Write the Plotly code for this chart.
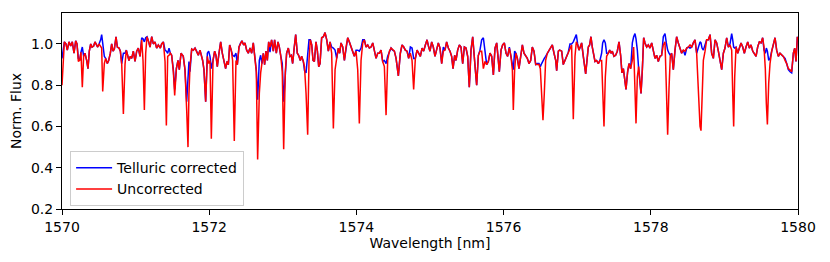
import plotly.graph_objects as go

wavelength = [
    1570.000, 1570.032, 1570.054, 1570.072, 1570.095, 1570.118, 1570.140, 1570.163, 1570.186, 1570.204,
    1570.222, 1570.240, 1570.258, 1570.276, 1570.294, 1570.312, 1570.335, 1570.353, 1570.371, 1570.390,
    1570.408, 1570.430, 1570.448, 1570.467, 1570.485, 1570.503, 1570.525, 1570.539, 1570.553, 1570.575,
    1570.593, 1570.616, 1570.634, 1570.657, 1570.675, 1570.693, 1570.711, 1570.734, 1570.752, 1570.775,
    1570.793, 1570.811, 1570.834, 1570.856, 1570.874, 1570.892, 1570.910, 1570.929, 1570.947, 1570.969,
    1570.992, 1571.015, 1571.037, 1571.060, 1571.083, 1571.101, 1571.119, 1571.137, 1571.155, 1571.178,
    1571.196, 1571.219, 1571.241, 1571.264, 1571.286, 1571.309, 1571.336, 1571.354, 1571.377, 1571.400,
    1571.418, 1571.436, 1571.454, 1571.472, 1571.490, 1571.513, 1571.531, 1571.554, 1571.576, 1571.594,
    1571.617, 1571.648, 1571.671, 1571.694, 1571.712, 1571.725, 1571.739, 1571.762, 1571.784, 1571.807,
    1571.829, 1571.852, 1571.875, 1571.893, 1571.911, 1571.929, 1571.952, 1571.975, 1571.993, 1572.011,
    1572.029, 1572.052, 1572.074, 1572.092, 1572.110, 1572.133, 1572.156, 1572.178, 1572.200, 1572.223,
    1572.242, 1572.260, 1572.278, 1572.300, 1572.318, 1572.341, 1572.364, 1572.382, 1572.405, 1572.427,
    1572.445, 1572.468, 1572.486, 1572.509, 1572.531, 1572.554, 1572.577, 1572.599, 1572.622, 1572.640,
    1572.658, 1572.681, 1572.699, 1572.717, 1572.735, 1572.753, 1572.771, 1572.790, 1572.808, 1572.826,
    1572.848, 1572.871, 1572.889, 1572.912, 1572.935, 1572.953, 1572.971, 1572.993, 1573.012, 1573.034,
    1573.052, 1573.075, 1573.097, 1573.116, 1573.134, 1573.156, 1573.175, 1573.197, 1573.215, 1573.238,
    1573.256, 1573.279, 1573.295, 1573.316, 1573.338, 1573.356, 1573.374, 1573.393, 1573.411, 1573.429,
    1573.451, 1573.470, 1573.488, 1573.506, 1573.528, 1573.551, 1573.574, 1573.597, 1573.619, 1573.642,
    1573.664, 1573.687, 1573.710, 1573.732, 1573.755, 1573.773, 1573.791, 1573.814, 1573.837, 1573.859,
    1573.882, 1573.904, 1573.927, 1573.950, 1573.972, 1573.995, 1574.018, 1574.040, 1574.063, 1574.086,
    1574.108, 1574.131, 1574.154, 1574.176, 1574.199, 1574.222, 1574.244, 1574.267, 1574.290, 1574.312,
    1574.335, 1574.357, 1574.380, 1574.403, 1574.425, 1574.448, 1574.471, 1574.493, 1574.516, 1574.539,
    1574.570, 1574.597, 1574.620, 1574.643, 1574.665, 1574.688, 1574.710, 1574.733, 1574.756, 1574.778,
    1574.801, 1574.824, 1574.846, 1574.869, 1574.892, 1574.914, 1574.937, 1574.960, 1574.982, 1575.000,
    1575.023, 1575.045, 1575.068, 1575.091, 1575.113, 1575.136, 1575.159, 1575.181, 1575.204, 1575.226,
    1575.249, 1575.272, 1575.294, 1575.313, 1575.335, 1575.353, 1575.376, 1575.399, 1575.421, 1575.444,
    1575.467, 1575.489, 1575.512, 1575.534, 1575.557, 1575.580, 1575.598, 1575.616, 1575.634, 1575.657,
    1575.679, 1575.702, 1575.725, 1575.747, 1575.770, 1575.793, 1575.815, 1575.838, 1575.861, 1575.883,
    1575.906, 1575.924, 1575.942, 1575.965, 1575.987, 1576.010, 1576.033, 1576.055, 1576.078, 1576.100,
    1576.119, 1576.132, 1576.150, 1576.168, 1576.187, 1576.209, 1576.232, 1576.255, 1576.277, 1576.300,
    1576.322, 1576.345, 1576.368, 1576.390, 1576.413, 1576.436, 1576.458, 1576.481, 1576.499, 1576.517,
    1576.535, 1576.553, 1576.571, 1576.594, 1576.617, 1576.640, 1576.662, 1576.685, 1576.708, 1576.721,
    1576.744, 1576.762, 1576.789, 1576.811, 1576.834, 1576.856, 1576.879, 1576.902, 1576.924, 1576.947,
    1576.970, 1576.988, 1577.006, 1577.024, 1577.042, 1577.060, 1577.083, 1577.106, 1577.115, 1577.133,
    1577.151, 1577.169, 1577.187, 1577.205, 1577.223, 1577.242, 1577.264, 1577.287, 1577.309, 1577.332,
    1577.346, 1577.364, 1577.382, 1577.400, 1577.423, 1577.441, 1577.459, 1577.477, 1577.500, 1577.522,
    1577.545, 1577.568, 1577.590, 1577.608, 1577.627, 1577.645, 1577.663, 1577.685, 1577.704, 1577.726,
    1577.749, 1577.767, 1577.785, 1577.799, 1577.817, 1577.835, 1577.853, 1577.867, 1577.885, 1577.903,
    1577.921, 1577.944, 1577.966, 1577.989, 1578.012, 1578.034, 1578.057, 1578.079, 1578.102, 1578.125,
    1578.147, 1578.170, 1578.193, 1578.211, 1578.229, 1578.247, 1578.265, 1578.283, 1578.306, 1578.329,
    1578.351, 1578.374, 1578.397, 1578.419, 1578.442, 1578.465, 1578.488, 1578.510, 1578.533, 1578.556,
    1578.578, 1578.601, 1578.623, 1578.646, 1578.669, 1578.682, 1578.696, 1578.714, 1578.737, 1578.759,
    1578.782, 1578.805, 1578.827, 1578.850, 1578.873, 1578.895, 1578.918, 1578.940, 1578.963, 1578.986,
    1579.008, 1579.031, 1579.054, 1579.076, 1579.099, 1579.113, 1579.126, 1579.140, 1579.158, 1579.181,
    1579.203, 1579.226, 1579.249, 1579.271, 1579.294, 1579.317, 1579.339, 1579.362, 1579.385, 1579.407,
    1579.430, 1579.452, 1579.475, 1579.498, 1579.520, 1579.538, 1579.556, 1579.570, 1579.584, 1579.602,
    1579.620, 1579.643, 1579.665, 1579.688, 1579.710, 1579.733, 1579.756, 1579.778, 1579.801, 1579.824,
    1579.846, 1579.869, 1579.892, 1579.914, 1579.937, 1579.955, 1579.973, 1579.991,
]

flux_uncorrected = [
    0.80, 1.01, 1.00, 0.97, 1.01, 0.99, 1.01, 0.955, 1.015, 1.00,
    0.915, 0.92, 0.96, 0.79, 0.94, 0.955, 0.92, 0.88, 0.965, 1.00,
    0.985, 0.99, 1.01, 0.995, 0.985, 1.00, 0.99, 0.98, 0.77, 0.905,
    0.93, 0.905, 0.92, 0.955, 1.00, 0.965, 0.975, 1.035, 0.985, 0.98,
    0.965, 0.905, 0.66, 0.90, 0.97, 0.945, 0.92, 0.94, 0.93, 0.965,
    0.915, 0.965, 0.98, 0.94, 1.02, 0.92, 0.68, 0.955, 1.035, 1.01,
    0.985, 1.035, 1.00, 1.01, 0.98, 0.995, 0.98, 1.00, 1.01, 0.915,
    0.605, 0.94, 0.945, 0.955, 0.945, 0.865, 0.75, 0.88, 0.92, 0.875,
    0.955, 0.94, 0.875, 0.68, 0.50, 0.76, 0.89, 0.975, 0.97, 0.98,
    0.965, 0.945, 0.97, 0.945, 0.92, 0.875, 0.72, 0.94, 0.905, 0.92,
    0.54, 0.92, 0.965, 0.945, 0.89, 0.955, 1.01, 0.955, 0.915, 0.88,
    0.915, 0.90, 0.995, 0.97, 0.92, 0.53, 0.92, 0.90, 0.985, 1.005,
    1.015, 0.995, 1.005, 0.97, 0.955, 0.98, 0.955, 1.005, 0.94, 0.865,
    0.44, 0.76, 0.86, 0.905, 0.955, 0.90, 0.965, 0.92, 1.01, 0.985,
    1.02, 0.965, 1.02, 0.955, 1.01, 0.985, 0.945, 0.865, 0.49, 0.865,
    0.955, 0.98, 0.94, 0.945, 0.905, 0.985, 1.045, 0.955, 0.945, 0.92,
    0.94, 0.915, 0.89, 0.76, 0.56, 0.92, 1.02, 0.995, 0.92, 0.915,
    1.01, 0.965, 0.89, 0.905, 1.03, 1.035, 1.055, 1.02, 0.965, 1.01,
    0.955, 0.59, 0.875, 0.93, 0.98, 0.955, 1.005, 0.985, 0.92, 0.985,
    1.03, 1.01, 0.985, 0.955, 0.94, 0.965, 0.875, 0.615, 0.92, 1.005,
    1.02, 0.985, 0.995, 0.98, 0.985, 1.005, 0.965, 0.93, 0.955, 0.955,
    0.97, 0.915, 0.89, 0.655, 0.92, 0.965, 0.98, 0.97, 0.965, 0.93,
    0.845, 0.955, 0.995, 0.985, 0.97, 0.965, 0.93, 0.955, 0.92, 0.78,
    0.93, 0.97, 0.955, 0.94, 0.98, 0.965, 0.995, 1.02, 0.985, 0.965,
    1.01, 0.985, 0.94, 0.97, 1.005, 0.98, 0.905, 0.965, 0.97, 1.01,
    0.98, 0.965, 0.94, 0.88, 0.945, 0.92, 0.97, 0.995, 0.985, 0.905,
    0.985, 0.98, 0.94, 0.79, 0.97, 1.035, 0.97, 0.875, 0.80, 0.945,
    0.965, 0.965, 0.88, 0.915, 0.90, 0.915, 0.955, 0.94, 0.85, 0.98,
    1.005, 0.94, 0.865, 0.97, 0.995, 1.005, 0.955, 0.94, 0.98, 0.94,
    0.875, 0.68, 0.875, 0.955, 0.93, 0.88, 0.94, 0.995, 0.955, 0.94,
    0.93, 0.905, 0.92, 0.985, 0.965, 0.90, 0.90, 0.90, 0.88, 0.745,
    0.63, 0.76, 0.92, 0.955, 0.97, 0.985, 0.995, 0.955, 0.92, 0.87,
    0.965, 0.97, 0.965, 0.90, 0.92, 0.945, 0.96, 0.98, 0.995, 0.635,
    0.94, 1.01, 0.995, 0.97, 0.985, 1.005, 0.94, 0.875, 0.855, 0.92,
    0.985, 0.995, 1.035, 0.985, 0.94, 0.915, 0.92, 0.905, 0.92, 0.92,
    0.78, 0.60, 0.84, 0.94, 0.955, 0.97, 0.955, 0.965, 0.94, 0.945,
    0.965, 1.01, 0.945, 0.86, 0.88, 0.84, 0.78, 0.865, 0.905, 0.88,
    0.92, 0.985, 0.76, 0.615, 0.84, 0.89, 0.82, 0.76, 0.875, 1.03,
    1.005, 0.985, 0.995, 0.98, 1.005, 0.97, 0.93, 0.945, 0.915, 0.94,
    0.945, 0.995, 1.01, 0.79, 0.56, 0.78, 0.94, 0.955, 0.875, 0.97,
    1.035, 1.005, 0.98, 0.955, 0.97, 0.965, 0.98, 0.985, 0.995, 0.985,
    1.005, 1.02, 0.955, 0.79, 0.60, 0.58, 0.76, 0.92, 0.965, 1.02,
    1.02, 1.045, 0.955, 0.93, 1.02, 1.005, 0.965, 0.92, 0.875, 0.955,
    0.98, 1.03, 0.985, 0.995, 0.97, 0.76, 0.60, 0.84, 0.985, 0.955,
    0.98, 1.005, 0.985, 0.955, 0.985, 1.01, 0.98, 0.995, 0.965, 0.955,
    0.94, 0.985, 1.01, 1.005, 1.03, 0.985, 0.88, 0.71, 0.61, 0.81,
    0.905, 0.965, 0.995, 1.03, 0.97, 0.94, 0.955, 0.945, 0.94, 0.92,
    0.905, 0.88, 0.875, 0.865, 0.955, 0.98, 0.915, 1.035,
]

flux_corrected = [
    0.93, 1.01, 1.00, 0.97, 1.01, 0.99, 1.01, 0.955, 1.015, 1.00,
    0.93, 0.92, 0.96, 0.985, 0.94, 0.955, 0.92, 0.88, 0.965, 1.00,
    0.985, 0.99, 1.01, 0.995, 0.985, 1.00, 1.02, 1.045, 1.01, 0.94,
    0.93, 0.905, 0.92, 0.955, 1.00, 0.965, 0.975, 1.035, 0.985, 0.98,
    0.965, 0.905, 0.955, 0.955, 0.97, 0.945, 0.92, 0.94, 0.93, 0.965,
    0.915, 0.965, 0.98, 0.94, 1.03, 1.025, 1.01, 1.03, 1.035, 1.01,
    0.985, 1.035, 1.00, 1.01, 0.98, 0.995, 0.98, 1.00, 1.01, 0.97,
    0.965, 0.955, 0.98, 0.955, 0.945, 0.875, 0.78, 0.88, 0.92, 0.875,
    0.955, 0.94, 0.875, 0.72, 0.84, 0.915, 0.865, 0.975, 0.97, 0.98,
    0.965, 0.945, 0.97, 0.945, 0.92, 0.875, 0.72, 0.955, 0.965, 0.94,
    0.88, 0.92, 0.965, 0.945, 0.89, 0.955, 1.01, 0.955, 0.915, 0.88,
    0.915, 0.90, 0.995, 0.97, 0.945, 0.94, 0.955, 0.90, 0.985, 1.005,
    1.015, 0.995, 1.005, 0.97, 0.955, 0.98, 0.955, 1.005, 0.94, 0.875,
    0.73, 0.92, 0.945, 0.905, 0.955, 0.90, 0.965, 0.92, 1.01, 0.96,
    1.02, 0.965, 1.02, 0.955, 1.01, 0.985, 0.945, 0.905, 0.72, 0.88,
    0.955, 0.98, 0.94, 0.945, 0.905, 0.985, 1.045, 0.955, 0.945, 0.92,
    0.94, 0.915, 0.87, 0.86, 0.97, 1.02, 1.02, 0.995, 0.92, 0.915,
    1.01, 0.965, 0.89, 0.905, 1.03, 1.035, 1.055, 1.02, 0.965, 1.01,
    0.985, 0.98, 0.97, 0.93, 0.98, 0.955, 1.005, 0.985, 0.92, 0.985,
    1.03, 1.01, 0.985, 0.955, 0.94, 0.97, 0.97, 0.965, 0.98, 1.02,
    1.02, 0.985, 0.995, 0.98, 0.985, 1.005, 0.965, 0.93, 0.955, 0.955,
    0.97, 0.915, 0.92, 0.905, 0.94, 0.965, 0.98, 0.97, 0.965, 0.93,
    0.845, 0.955, 0.995, 0.985, 0.97, 0.965, 0.93, 0.985, 0.98, 0.93,
    0.93, 0.97, 0.955, 0.94, 0.98, 0.965, 0.995, 1.02, 0.985, 0.965,
    1.01, 0.985, 0.94, 0.97, 1.005, 0.98, 0.905, 0.985, 0.97, 1.01,
    0.98, 0.965, 0.94, 0.88, 0.945, 0.92, 0.97, 0.995, 0.985, 0.905,
    0.985, 0.98, 0.94, 0.79, 0.97, 1.035, 0.97, 0.875, 0.80, 0.945,
    0.97, 1.02, 1.03, 0.965, 0.90, 0.915, 0.955, 0.94, 0.85, 0.98,
    1.005, 0.94, 0.865, 0.97, 0.995, 1.005, 0.955, 0.94, 0.985, 0.94,
    0.885, 0.875, 0.965, 0.955, 0.93, 0.88, 0.94, 0.995, 0.955, 0.94,
    0.93, 0.905, 0.92, 0.985, 0.965, 0.90, 0.905, 0.905, 0.89, 0.905,
    0.92, 0.93, 0.94, 0.955, 0.97, 0.985, 0.995, 0.955, 0.92, 0.87,
    0.965, 0.97, 0.965, 0.90, 0.92, 0.945, 0.96, 1.00, 1.00, 1.01,
    1.035, 1.045, 1.00, 0.97, 0.985, 1.005, 0.94, 0.875, 0.855, 0.92,
    0.985, 0.995, 1.035, 0.985, 0.94, 0.915, 0.92, 0.905, 0.92, 0.955,
    1.005, 1.02, 1.005, 0.955, 0.955, 0.97, 0.955, 0.965, 0.94, 0.945,
    0.965, 1.01, 0.945, 0.86, 0.88, 0.84, 0.78, 0.865, 0.905, 0.88,
    1.005, 1.035, 1.05, 1.025, 0.97, 0.88, 0.82, 0.76, 0.875, 1.03,
    1.005, 0.985, 0.995, 0.98, 1.005, 0.97, 0.93, 0.945, 0.915, 0.94,
    0.945, 1.035, 1.05, 1.005, 0.97, 0.955, 0.945, 0.955, 0.875, 0.97,
    1.035, 1.005, 0.98, 0.955, 0.97, 0.945, 0.98, 0.985, 0.98, 0.985,
    1.005, 1.02, 0.955, 0.99, 1.01, 1.005, 0.98, 0.97, 0.995, 1.02,
    1.02, 1.045, 0.955, 0.93, 1.02, 1.005, 0.965, 0.92, 0.875, 0.955,
    0.98, 1.03, 0.985, 1.00, 1.05, 1.02, 0.985, 0.98, 0.985, 0.955,
    0.98, 1.005, 0.985, 0.955, 0.985, 1.01, 0.98, 0.995, 0.965, 0.955,
    0.94, 0.985, 1.01, 1.005, 1.03, 0.97, 0.955, 0.98, 0.965, 0.92,
    0.93, 0.965, 0.995, 1.03, 0.97, 0.94, 0.955, 0.945, 0.94, 0.93,
    0.905, 0.875, 0.865, 0.86, 0.955, 0.98, 0.915, 1.035,
]

x_ticks = [1570, 1572, 1574, 1576, 1578, 1580]
y_ticks = [0.2, 0.4, 0.6, 0.8, 1.0]

FONT = "DejaVu Sans"

fig = go.Figure()
fig.add_trace(go.Scatter(x=wavelength, y=flux_corrected, mode="lines",
                         name="Telluric corrected",
                         line=dict(color="#0000ff", width=1.5)))
fig.add_trace(go.Scatter(x=wavelength, y=flux_uncorrected, mode="lines",
                         name="Uncorrected",
                         line=dict(color="#ff0000", width=1.5)))

axis_common = dict(showgrid=False, zeroline=False, showline=True, linecolor="black",
                   linewidth=1, mirror=True, ticks="outside", ticklen=5, tickwidth=1,
                   tickcolor="black", tickfont=dict(family=FONT, size=14, color="black"))

# the page body adds an 8px offset, so the figure is sized to fill the rest of the window
fig.update_layout(
    width=822, height=254,
    margin=dict(l=54, r=32, t=5, b=53),
    paper_bgcolor="white", plot_bgcolor="white",
    font=dict(family=FONT, size=14, color="black"),
    xaxis=dict(range=[1570, 1580], tickvals=x_ticks, ticktext=[str(v) for v in x_ticks],
               title=dict(text="Wavelength [nm]", font=dict(family=FONT, size=14), standoff=4),
               **axis_common),
    yaxis=dict(range=[0.2, 1.15], tickvals=y_ticks, ticktext=[f"{v:.1f}" for v in y_ticks],
               title=dict(text="Norm. Flux", font=dict(family=FONT, size=14), standoff=6),
               **axis_common),
    legend=dict(x=0.011, y=0.295, xanchor="left", yanchor="top",
                bgcolor="rgba(255,255,255,0.8)", bordercolor="#cccccc", borderwidth=1,
                font=dict(family=FONT, size=14), tracegroupgap=0, itemwidth=36),
    showlegend=True,
)

fig.write_html("out.html")
